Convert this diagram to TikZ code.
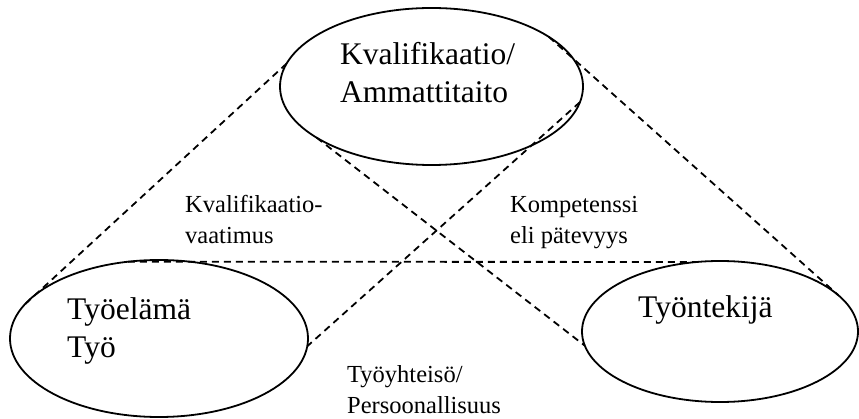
\documentclass[tikz,border=0pt]{standalone}
\usepackage{fontspec}
\setmainfont{Liberation Serif}
\usetikzlibrary{shapes.geometric}

\begin{document}
\begin{tikzpicture}[x=1pt, y=-1pt,
    oval/.style={draw, ellipse, line width=1.8pt, inner sep=0pt, outer sep=0pt},
    link/.style={dash pattern=on 7pt off 5pt, line width=1.8pt},
    big/.style={font=\fontsize{31.5}{38}\selectfont, align=left, anchor=base west, inner sep=0pt},
    small/.style={font=\fontsize{24.5}{31}\selectfont, align=left, anchor=base west, inner sep=0pt}]
  \useasboundingbox (0,0) rectangle (859,419);
  % the three ellipses
  \node[oval, minimum width=303pt, minimum height=157pt] (kval) at (431.5,86.5) {};
  \node[oval, minimum width=298pt, minimum height=157pt] (tyoelama) at (159,338.5) {};
  \node[oval, minimum width=276pt, minimum height=141pt] (tyontekija) at (720,331.5) {};
  % texts, placed at the baseline of their last line
  \node[big] (kvalteksti) at (340,103) {Kvalifikaatio/\\Ammattitaito};
  \node[big] (tyoelamateksti) at (67,357) {Työelämä\\Työ};
  \node[big] (tyontekijateksti) at (638,318) {Työntekijä};
  % labels between
  \node[small] (vaatimus) at (185,244) {Kvalifikaatio-\\vaatimus};
  \node[small] (kompetenssi) at (510,244) {Kompetenssi\\eli pätevyys};
  \node[small] (yhteiso) at (347,413) {Työyhteisö/\\Persoonallisuus};
  % dashed links
  \draw[link] (kval.171) -- (tyoelama.166);
  \draw[link] (kval.23) -- (tyontekija.17);
  \draw[link] (tyoelama.112) -- (tyontekija.108);
  \draw[link] (kval.204) -- (tyontekija.186);
  \draw[link] (kval.354) -- (tyoelama.357);
\end{tikzpicture}
\end{document}
